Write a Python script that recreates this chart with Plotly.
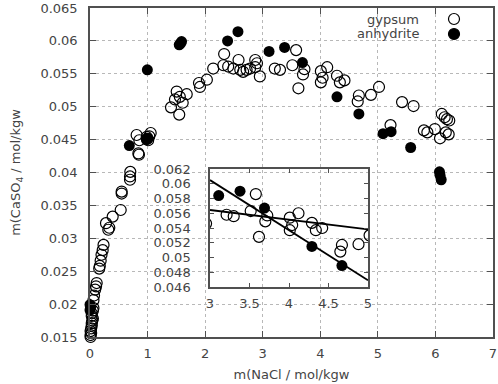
import plotly.graph_objects as go

# ---- data ----
gyp_x = [0.01, 0.01, 0.02, 0.01, 0.02, 0.03, 0.03, 0.04, 0.05, 0.03, 0.03, 0.05, 0.06,
         0.06, 0.07, 0.09, 0.105, 0.116,
         0.16, 0.17, 0.185, 0.20, 0.22, 0.235,
         0.278, 0.318, 0.335, 0.394, 0.533, 0.55, 0.55,
         0.695, 0.695, 0.70,
         0.84, 0.85, 0.81, 0.857, 0.985, 1.01, 1.054, 1.03, 0.99,
         1.407, 1.476, 1.506, 1.55, 1.61, 1.68, 1.56,
         1.893, 1.91, 2.03, 2.14, 2.33, 2.316, 2.40, 2.49, 2.58, 2.61, 2.66, 2.72,
         2.87, 2.90, 2.87, 2.78, 2.95,
         3.21, 3.30, 3.515, 3.58, 3.725, 3.70, 3.62,
         4.01, 4.04, 4.01, 4.12, 4.29, 4.34, 4.42,
         4.67, 4.65, 4.88, 5.02, 5.22, 5.42, 5.62,
         5.80, 5.86, 5.99, 6.08, 6.18, 6.23,
         6.11, 6.16, 6.20, 6.24]
gyp_y = [0.0150, 0.0153, 0.0156, 0.0159, 0.0163, 0.0167, 0.0171, 0.0175, 0.0178, 0.0182, 0.0186, 0.0190, 0.0194,
         0.0206, 0.0213, 0.0222, 0.0227, 0.0232,
         0.0254, 0.0258, 0.0266, 0.0275, 0.0282, 0.0290,
         0.0323, 0.0313, 0.0316, 0.0333, 0.0343, 0.0368, 0.0371,
         0.0389, 0.0394, 0.0401,
         0.0429, 0.0427, 0.0457, 0.0449, 0.0454, 0.0449, 0.0460, 0.0455, 0.0451,
         0.0499, 0.0511, 0.0523, 0.0488, 0.0506, 0.0519, 0.0515,
         0.0536, 0.0530, 0.0541, 0.0558, 0.0580, 0.0563, 0.0561, 0.0558, 0.0571, 0.0556, 0.0553, 0.0556,
         0.0571, 0.0566, 0.0560, 0.0558, 0.0546,
         0.0558, 0.0556, 0.0563, 0.0586, 0.0557, 0.0549, 0.0528,
         0.0554, 0.0544, 0.0537, 0.0560, 0.0547, 0.0537, 0.0540,
         0.0517, 0.0508, 0.0518, 0.0530, 0.0472, 0.0507, 0.0501,
         0.0464, 0.0461, 0.0466, 0.0452, 0.0461, 0.0458,
         0.0489, 0.0484, 0.0481, 0.0479]

anh_x = [0.0, 0.01, 0.0, 0.683, 0.996, 1.01, 0.98, 1.55, 1.57, 1.59, 2.39, 2.57,
         3.11, 3.38, 3.69, 4.29, 4.67, 5.09, 5.23, 5.57, 6.07, 6.08, 6.10]
anh_y = [0.0199, 0.0195, 0.0191, 0.0441, 0.0556, 0.0452, 0.0450, 0.0594, 0.0596, 0.0599, 0.0600, 0.0614,
         0.0584, 0.0590, 0.0567, 0.0515, 0.0489, 0.0459, 0.0462, 0.0438, 0.0401, 0.0396, 0.0389]

# fitted lines in the inset (end points)
fit_x = [3.0, 5.0]
gyp_fit_y = [0.05644, 0.0538]
anh_fit_y = [0.0605, 0.0469]

main_xticks = [0, 1, 2, 3, 4, 5, 6, 7]
main_yticks = [0.015, 0.02, 0.025, 0.03, 0.035, 0.04, 0.045, 0.05, 0.055, 0.06, 0.065]
inset_xticks = [3, 3.5, 4, 4.5, 5]
inset_yticks = [0.046, 0.048, 0.05, 0.052, 0.054, 0.056, 0.058, 0.06, 0.062]

TXT = "#444444"
FRAME = "#505050"
FONT = "DejaVu Sans"

open_marker = dict(symbol="circle-open", size=11, color="black", line=dict(width=1.2, color="black"))
fill_marker = dict(symbol="circle", size=11, color="black", line=dict(width=0))

fig = go.Figure()
fig.add_trace(go.Scatter(x=gyp_x, y=gyp_y, mode="markers", marker=open_marker,
                         name="gypsum", cliponaxis=False, xaxis="x", yaxis="y"))
fig.add_trace(go.Scatter(x=anh_x, y=anh_y, mode="markers", marker=fill_marker,
                         name="anhydrite", cliponaxis=False, xaxis="x", yaxis="y"))
# inset
fig.add_trace(go.Scatter(x=gyp_x, y=gyp_y, mode="markers", marker=open_marker,
                         showlegend=False, xaxis="x2", yaxis="y2"))
fig.add_trace(go.Scatter(x=anh_x, y=anh_y, mode="markers", marker=fill_marker,
                         showlegend=False, xaxis="x2", yaxis="y2"))
fig.add_trace(go.Scatter(x=fit_x, y=gyp_fit_y, mode="lines", line=dict(color="black", width=1.8),
                         showlegend=False, xaxis="x2", yaxis="y2"))
fig.add_trace(go.Scatter(x=fit_x, y=anh_fit_y, mode="lines", line=dict(color="black", width=1.8),
                         showlegend=False, xaxis="x2", yaxis="y2"))

axis_common = dict(showline=True, linecolor=FRAME, linewidth=1.5, mirror="ticks",
                   ticks="inside", tickcolor=FRAME, zeroline=False, automargin=False)

fig.update_layout(
    width=498, height=384,
    margin=dict(l=90, r=5, t=8, b=47),
    paper_bgcolor="white", plot_bgcolor="rgba(0,0,0,0)",
    font=dict(family=FONT, size=13, color=TXT),
    showlegend=False,
    xaxis=dict(range=[0, 7], tickvals=main_xticks, ticklen=6,
               showgrid=True, gridcolor="#b8b8b8", griddash="dot", gridwidth=1,
               title=dict(text="m(NaCl / mol/kgw", standoff=10, font=dict(size=13, color=TXT)),
               ticklabelstandoff=4,
               **axis_common),
    yaxis=dict(range=[0.015, 0.065], tickvals=main_yticks, ticklen=6,
               showgrid=True, gridcolor="#b8b8b8", griddash="dot", gridwidth=1,
               title=dict(text="m(CaSO<sub>4</sub> / mol/kgw", standoff=17, font=dict(size=13, color=TXT)),
               ticklabelstandoff=8,
               **axis_common),
    xaxis2=dict(domain=[0.2978, 0.6898], anchor="y2", range=[3, 5], tickvals=inset_xticks,
                ticklen=4, showgrid=False, tickfont=dict(size=13, color=TXT),
                ticklabelstandoff=4, **axis_common),
    yaxis2=dict(domain=[0.152, 0.5106], anchor="x2", range=[0.046, 0.062], tickvals=inset_yticks,
                ticklen=4, showgrid=False, tickfont=dict(size=13, color=TXT),
                ticklabelstandoff=15, **axis_common),
)

# legend (text left of symbol, gnuplot style)
def px_to_paper(px, py):
    return (px - 90) / 403.0, (337 - py) / 329.0

for label, py, filled in [("gypsum", 19, False), ("anhydrite", 34, True)]:
    tx, ty = px_to_paper(421, py)
    fig.add_annotation(x=tx, y=ty, xref="paper", yref="paper", text=label, showarrow=False,
                       xanchor="right", yanchor="middle", font=dict(size=13, color=TXT))
    sx, sy = px_to_paper(454, py)
    fig.add_shape(type="circle", xref="paper", yref="paper", xsizemode="pixel", ysizemode="pixel",
                  xanchor=sx, yanchor=sy, x0=-5.5, x1=5.5, y0=-5.5, y1=5.5,
                  line=dict(color="black", width=1.2),
                  fillcolor="black" if filled else "rgba(0,0,0,0)")

fig.write_html("out.html", config={"responsive": False, "displayModeBar": False},
               post_script="document.body.style.margin='0';document.body.style.padding='0';"
                           "document.documentElement.style.overflow='hidden';")
